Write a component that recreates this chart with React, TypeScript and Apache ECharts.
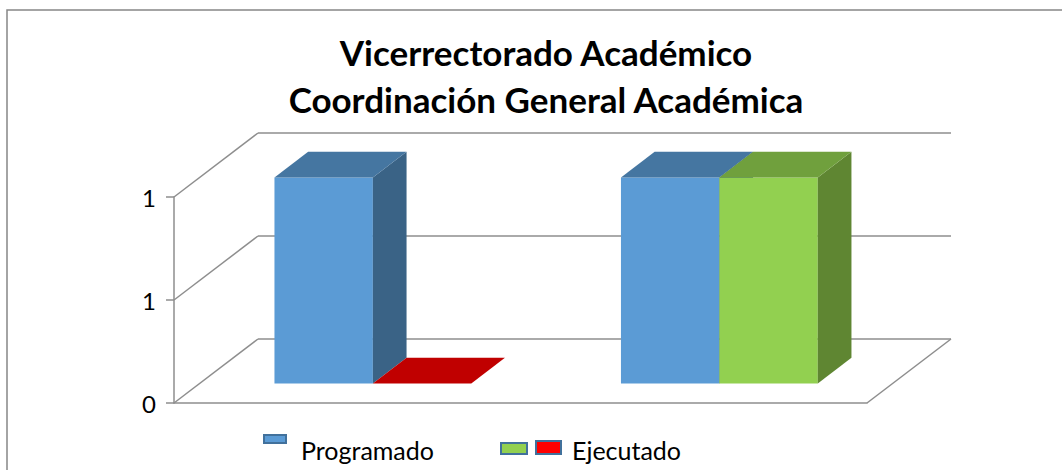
import React, { useEffect, useRef } from "react";
import * as echarts from "echarts";

// ---- data ----
const categories = ["Grupo 1", "Grupo 2"];
const seriesNames = ["Programado", "Ejecutado"];
const programado = [1, 1];
const ejecutado = [0, 1];
const yTicks = [0, 0.5, 1];
const titleLines = ["Vicerrectorado Académico", "Coordinación General Académica"];

// colours per bar: [front, top, side]
const programadoColors = [
  ["#5B9BD5", "#4576A1", "#3A6386"],
  ["#5B9BD5", "#4576A1", "#3A6386"],
];
const ejecutadoColors = [
  ["#FF0000", "#C00000", "#9A0000"],
  ["#92D050", "#70A03D", "#5F8632"],
];

const FONT = "Lato, 'Noto Sans', sans-serif";
const GRID_COLOR = "#8E8E8E";
// depth of 3D box (px)
const DX = 84;
const DY = -64;
const F1 = 0.305; // front of bars (fraction of depth)
const F2 = 0.706; // back of bars
const BAR_FRAC = 0.284; // each bar width as fraction of band

function makeBarRenderer(side: "left" | "right", colors: string[][]) {
  return (params: any, api: any) => {
    const idx = api.value(0);
    const val = api.value(1);
    const base = api.coord([idx, 0]);
    const topP = api.coord([idx, val]);
    const band = api.size([1, 0])[0];
    const w = band * BAR_FRAC;
    const xL = side === "left" ? base[0] - w : base[0];
    const y0 = base[1];
    const y1 = topP[1];
    const s1x = DX * F1, s1y = DY * F1;
    const s2x = DX * F2, s2y = DY * F2;
    const c = colors[idx];
    const children: any[] = [];
    if (y0 - y1 > 0.5) {
      children.push({
        type: "rect",
        shape: { x: xL + s1x, y: y1 + s1y, width: w, height: y0 - y1 },
        style: { fill: c[0] },
      });
      children.push({
        type: "polygon",
        shape: {
          points: [
            [xL + w + s1x, y1 + s1y],
            [xL + w + s2x, y1 + s2y],
            [xL + w + s2x, y0 + s2y],
            [xL + w + s1x, y0 + s1y],
          ],
        },
        style: { fill: c[2] },
      });
    }
    children.push({
      type: "polygon",
      shape: {
        points: [
          [xL + s1x, y1 + s1y],
          [xL + w + s1x, y1 + s1y],
          [xL + w + s2x, y1 + s2y],
          [xL + s2x, y1 + s2y],
        ],
      },
      style: { fill: c[1] },
    });
    return { type: "group", children };
  };
}

function wallRenderer(params: any, api: any) {
  const cs = params.coordSys;
  const v = api.value(0);
  const p = api.coord([0, v]);
  const y = p[1];
  const children: any[] = [
    {
      type: "line",
      shape: { x1: cs.x, y1: y, x2: cs.x + DX, y2: y + DY },
      style: { stroke: GRID_COLOR, lineWidth: 1.5 },
    },
  ];
  if (v === 0) {
    children.push({
      type: "line",
      shape: { x1: cs.x + cs.width, y1: y, x2: cs.x + cs.width + DX, y2: y + DY },
      style: { stroke: GRID_COLOR, lineWidth: 1.5 },
    });
  }
  return { type: "group", children };
}

export default function App() {
  const ref = useRef<HTMLDivElement>(null);
  useEffect(() => {
    if (!ref.current) return;
    const chart = echarts.init(ref.current, null, { renderer: "svg" });
    const option: any = {
      animation: false,
      backgroundColor: "#ffffff",
      title: {
        text: titleLines.join("\n"),
        left: 541,
        top: 23,
        textAlign: "center",
        textStyle: {
          fontFamily: FONT,
          fontWeight: "bold",
          fontSize: 35,
          lineHeight: 47,
          color: "#000000",
        },
      },
      grid: [
        { left: 174, right: 195, top: 197, bottom: 67 },
        { left: 258, right: 111, top: 133, bottom: 131 },
      ],
      xAxis: [
        {
          type: "category",
          gridIndex: 0,
          data: categories,
          axisLine: { show: true, lineStyle: { color: GRID_COLOR, width: 1.5 } },
          axisTick: { show: false },
          axisLabel: { show: false },
          splitLine: { show: false },
        },
        {
          type: "category",
          gridIndex: 1,
          data: categories,
          axisLine: { show: false },
          axisTick: { show: false },
          axisLabel: { show: false },
        },
      ],
      yAxis: [
        {
          type: "value",
          gridIndex: 0,
          min: 0,
          max: 1,
          interval: 0.5,
          axisLine: { show: true, lineStyle: { color: GRID_COLOR, width: 1.5 } },
          axisTick: { show: true, length: 8, lineStyle: { color: GRID_COLOR, width: 1.5 } },
          axisLabel: {
            margin: 18,
            fontFamily: FONT,
            fontSize: 24,
            color: "#000000",
            formatter: (v: number) => String(Math.round(v)),
          },
          splitLine: { show: false },
        },
        {
          type: "value",
          gridIndex: 1,
          min: 0,
          max: 1,
          interval: 0.5,
          axisLine: { show: false },
          axisTick: { show: false },
          axisLabel: { show: false },
          splitLine: { show: true, lineStyle: { color: GRID_COLOR, width: 1.5 } },
        },
      ],
      series: [
        {
          type: "custom",
          name: "wall",
          xAxisIndex: 0,
          yAxisIndex: 0,
          silent: true,
          z: 1,
          renderItem: wallRenderer,
          data: yTicks.map((v) => [v]),
          encode: { y: 0 },
        },
        {
          type: "custom",
          name: seriesNames[0],
          xAxisIndex: 0,
          yAxisIndex: 0,
          z: 5,
          renderItem: makeBarRenderer("left", programadoColors),
          data: programado.map((v, i) => [i, v]),
          encode: { x: 0, y: 1 },
        },
        {
          type: "custom",
          name: seriesNames[1],
          xAxisIndex: 0,
          yAxisIndex: 0,
          z: 6,
          renderItem: makeBarRenderer("right", ejecutadoColors),
          data: ejecutado.map((v, i) => [i, v]),
          encode: { x: 0, y: 1 },
        },
      ],
      graphic: [
        {
          type: "rect",
          silent: true,
          shape: { x: 7, y: 10, width: 1200, height: 600 },
          style: { fill: "none", stroke: "#878787", lineWidth: 1.5 },
          z: 0,
        },
        {
          type: "rect",
          shape: { x: 264, y: 435, width: 22, height: 8 },
          style: { fill: "#5B9BD5", stroke: "#41719C", lineWidth: 2 },
        },
        {
          type: "text",
          x: 301,
          y: 450,
          style: {
            text: seriesNames[0],
            fontFamily: FONT,
            fontSize: 25,
            fill: "#000000",
            verticalAlign: "middle",
          },
        },
        {
          type: "rect",
          shape: { x: 501, y: 443, width: 26, height: 11 },
          style: { fill: "#92D050", stroke: "#41719C", lineWidth: 2 },
        },
        {
          type: "rect",
          shape: { x: 536, y: 441, width: 25, height: 13 },
          style: { fill: "#FF0000", stroke: "#41719C", lineWidth: 2 },
        },
        {
          type: "text",
          x: 572,
          y: 450,
          style: {
            text: seriesNames[1],
            fontFamily: FONT,
            fontSize: 25,
            fill: "#000000",
            verticalAlign: "middle",
          },
        },
      ],
    };
    chart.setOption(option);
    return () => chart.dispose();
  }, []);
  return (
    <div
      ref={ref}
      style={{ position: "fixed", left: 0, top: 0, width: 1062, height: 470 }}
    />
  );
}
